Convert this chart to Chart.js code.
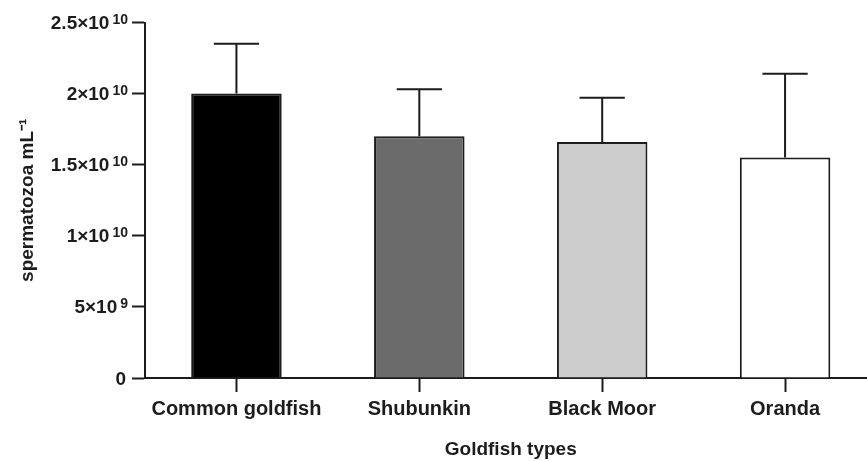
<!DOCTYPE html>
<html>
<head>
<meta charset="utf-8">
<script src="https://cdn.jsdelivr.net/npm/chart.js@4/dist/chart.umd.min.js"></script>
<style>
  html, body { margin: 0; padding: 0; background: #ffffff; overflow: hidden; }
  #wrap { width: 880px; height: 461px; }
</style>
</head>
<body>
<div id="wrap"><canvas id="chart" width="880" height="461"></canvas></div>
<script>
// Sperm density per goldfish type: mean and standard deviation (spermatozoa per mL)
const categories = ['Common goldfish', 'Shubunkin', 'Black Moor', 'Oranda'];
const meanCount = [2.00e10, 1.70e10, 1.66e10, 1.55e10];
const sdCount = [0.35e10, 0.33e10, 0.31e10, 0.59e10];

// Y-axis tick values and their labels (mantissa part and power-of-ten exponent)
const yTickValues = [0, 5e9, 1e10, 1.5e10, 2e10, 2.5e10];
const yTickBase = ['0', '5×10', '1×10', '1.5×10', '2×10', '2.5×10'];
const yTickExp = ['', '9', '10', '10', '10', '10'];

// Styling
const fillColors = ['#000000', '#6b6b6b', '#cccccc', '#ffffff'];
const ink = '#1c1c1c';
const FONT = "'Liberation Sans', Arial, Helvetica, sans-serif";

// Upper (mean + SD) error bars with a cap half as wide as the bar
const errorBars = {
  id: 'errorBars',
  afterDatasetsDraw(chart) {
    const meta = chart.getDatasetMeta(0);
    const y = chart.scales.y;
    const ctx = chart.ctx;
    ctx.save();
    ctx.strokeStyle = ink;
    ctx.lineWidth = 2;
    meta.data.forEach((bar, i) => {
      const base = y.getPixelForValue(meanCount[i]);
      const top = y.getPixelForValue(meanCount[i] + sdCount[i]);
      const half = bar.width / 4;
      ctx.beginPath();
      ctx.moveTo(bar.x, base);
      ctx.lineTo(bar.x, top);
      ctx.moveTo(bar.x - half, top);
      ctx.lineTo(bar.x + half, top);
      ctx.stroke();
    });
    ctx.restore();
  }
};

// Y tick labels written as mantissa × 10 with a raised exponent
const yLabels = {
  id: 'yLabels',
  afterDraw(chart) {
    const s = chart.scales.y;
    const ctx = chart.ctx;
    const right = chart.chartArea.left - 17;
    ctx.save();
    ctx.fillStyle = ink;
    ctx.textAlign = 'right';
    ctx.textBaseline = 'alphabetic';
    yTickValues.forEach((v, i) => {
      const py = s.getPixelForValue(v);
      let x = right;
      if (yTickExp[i]) {
        ctx.font = 'bold 14px ' + FONT;
        ctx.fillText(yTickExp[i], x, py + 1.5);
        x -= ctx.measureText(yTickExp[i]).width + 3;
      } else {
        x -= 2;
      }
      ctx.font = 'bold 19px ' + FONT;
      ctx.fillText(yTickBase[i], x, py + 6.5);
    });
    ctx.restore();
  }
};

new Chart(document.getElementById('chart'), {
  type: 'bar',
  data: {
    labels: categories,
    datasets: [{
      data: meanCount,
      backgroundColor: fillColors,
      borderColor: ink,
      borderWidth: 2,
      borderSkipped: 'start',
      barPercentage: 0.495,
      categoryPercentage: 1
    }]
  },
  options: {
    responsive: false,
    animation: false,
    devicePixelRatio: 1,
    layout: { padding: { top: 22.5, right: 3.5, bottom: 0, left: 0 } },
    plugins: { legend: { display: false }, tooltip: { enabled: false } },
    scales: {
      x: {
        offset: true,
        grid: { drawOnChartArea: false, offset: false, tickLength: 14, tickWidth: 2, tickColor: ink },
        border: { display: true, color: ink, width: 2 },
        ticks: {
          color: ink,
          font: { size: 20, weight: 'bold', family: FONT },
          padding: 5,
          maxRotation: 0,
          autoSkip: false
        },
        title: {
          display: true,
          text: 'Goldfish types',
          color: ink,
          font: { size: 19, weight: 'bold', family: FONT },
          padding: { top: 0, bottom: 0 }
        },
        afterFit(scale) { scale.height = 83; }
      },
      y: {
        min: 0,
        max: 2.5e10,
        ticks: { stepSize: 5e9, display: false },
        grid: { drawOnChartArea: false, tickLength: 13, tickWidth: 2, tickColor: ink },
        border: { display: true, color: ink, width: 2 },
        title: {
          display: true,
          text: 'spermatozoa mL⁻¹',
          color: ink,
          font: { size: 19, weight: 'bold', family: FONT },
          padding: { top: 16, bottom: 0 }
        },
        afterFit(scale) { scale.width = 145; }
      }
    }
  },
  plugins: [errorBars, yLabels]
});
</script>
</body>
</html>
